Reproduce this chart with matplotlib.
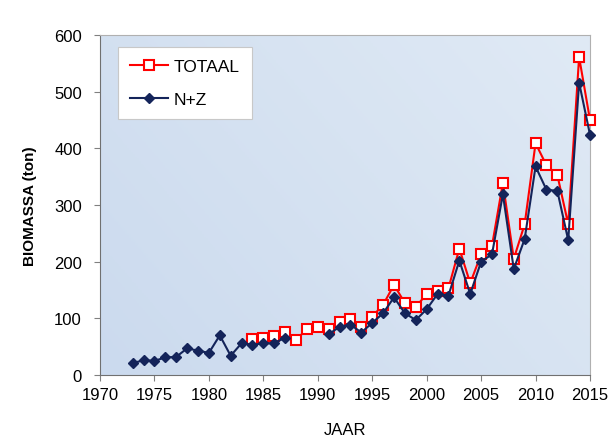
import numpy as np
import matplotlib
matplotlib.use("Agg")
from matplotlib import pyplot as plt
from matplotlib.colors import LinearSegmentedColormap

plt.rcParams['font.family'] = ['Liberation Sans', 'DejaVu Sans']

# jaren en biomassa (ton)
jaar_nz = list(range(1973, 2016))
nz = [21, 26, 25, 31, 32, 47, 43, 39, 70, 34, 56, 53, 56, 56, 66,
      np.nan, np.nan, np.nan,
      72, 85, 89, 75, 92, 109, 137, 109, 97, 116, 143, 140, 202, 143,
      200, 213, 319, 187, 240, 368, 327, 325, 238, 516, 424]

jaar_tot = list(range(1984, 2016))
totaal = [63, 65, 69, 76, 62, 81, 85, 81, 94, 98, 84, 103, 124, 159, 127,
          120, 143, 149, 153, 223, 162, 213, 228, 339, 205, 266, 409, 370,
          353, 266, 561, 450]

xticks = [1970, 1975, 1980, 1985, 1990, 1995, 2000, 2005, 2010, 2015]
yticks = [0, 100, 200, 300, 400, 500, 600]

fig = plt.figure(figsize=(6.1, 4.39), dpi=100)
ax = fig.add_axes([100/610, 1-376/439, 490/610, 340/439])

# lichtblauwe achtergrond met verloop
grad = np.linspace(0, 1, 256).reshape(1, -1)
grad = grad + np.linspace(0, 0.6, 256).reshape(-1, 1)
cmap = LinearSegmentedColormap.from_list('bg', ['#cbdaee', '#e0eaf5'])
ax.imshow(grad, extent=[1970, 2015, 0, 600], aspect='auto', cmap=cmap,
          origin='lower', zorder=0)

ax.plot(jaar_tot, totaal, color='#ff0000', lw=1.5, marker='s', ms=6.5,
        mfc='white', mec='#ff0000', mew=1.5, label='TOTAAL', zorder=3,
        clip_on=False)
ax.plot(jaar_nz, nz, color='#14245a', lw=1.5, marker='D', ms=5.5,
        mfc='#14245a', mec='#14245a', label='N+Z', zorder=4, clip_on=False)

ax.set_xlim(1970, 2015)
ax.set_ylim(0, 600)
ax.set_xticks(xticks)
ax.set_yticks(yticks)
ax.tick_params(axis='x', length=4, pad=5, labelsize=12, color='#808080')
ax.tick_params(axis='y', length=4, pad=9, labelsize=12, color='#808080')

for s in ['left', 'bottom']:
    ax.spines[s].set_color('#707070')
for s in ['top', 'right']:
    ax.spines[s].set_color('#b0b0b0')

ax.set_xlabel('JAAR', fontsize=12, labelpad=14)
ax.set_ylabel('BIOMASSA (ton)', fontsize=11, fontweight='bold', labelpad=12)

leg = ax.legend(loc='upper left', bbox_to_anchor=(0.037, 0.965),
                borderaxespad=0, fancybox=False, framealpha=1,
                edgecolor='#c8c8c8', fontsize=12.5, handlelength=2.2,
                labelspacing=1.0, borderpad=0.7, handletextpad=0.3)
leg.get_frame().set_linewidth(0.8)

fig.savefig('out.png', dpi=100)
